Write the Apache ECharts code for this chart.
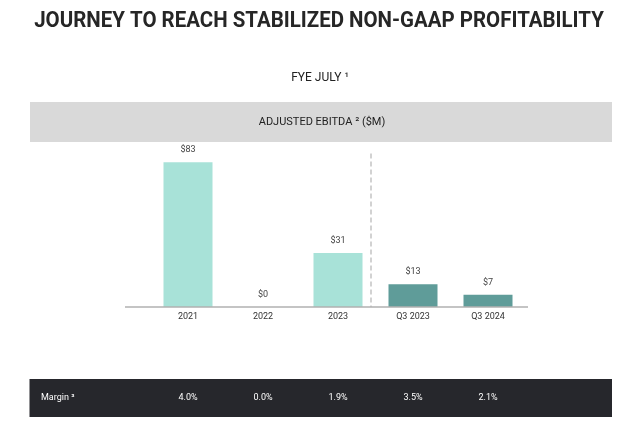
<!DOCTYPE html>
<html>
<head>
<meta charset="utf-8">
<script src="https://cdn.jsdelivr.net/npm/echarts@6/dist/echarts.min.js"></script>
<style>html,body{margin:0;padding:0;background:#fff}#c{width:640px;height:428px}</style>
</head>
<body>
<div id="c"></div>
<script>
const categories = ['2021', '2022', '2023', 'Q3 2023', 'Q3 2024'];
const ebitda = [83, 0, 31, 13, 7];
const barLabels = ['$83', '$0', '$31', '$13', '$7'];
const margins = ['4.0%', '0.0%', '1.9%', '3.5%', '2.1%'];
const annualCount = 3; // first three bars are fiscal years, rest quarters
const yTicks = [0, 90];

const LIGHT = '#a8e2d8';
const DARK = '#5f9c99';

const chart = echarts.init(document.getElementById('c'), null, {renderer: 'canvas'});

const barData = ebitda.map((v, i) => ({
  value: v,
  itemStyle: {color: i < annualCount ? LIGHT : DARK},
  label: {formatter: barLabels[i]}
}));

const baseGraphics = [
  {id: 'bandTop', type: 'rect', z: -10, shape: {x: 30, y: 102, width: 582, height: 40}, style: {fill: '#d9d9d9'}},
  {id: 'bandBot', type: 'rect', z: -10, shape: {x: 29.5, y: 379, width: 582.5, height: 38}, style: {fill: '#26272c'}},
  {id: 'base', type: 'line', z: 5, shape: {x1: 125, y1: 307, x2: 528, y2: 307}, style: {stroke: '#b0b0b0', lineWidth: 1.5}},
  {id: 'title', type: 'text', x: 319, y: 21, scaleX: 0.93, style: {
    text: 'JOURNEY TO REACH STABILIZED NON-GAAP PROFITABILITY',
    font: 'bold 22px Roboto', fill: '#262626', align: 'center', verticalAlign: 'middle'}},
  {id: 'fye', type: 'text', x: 320, y: 78, style: {
    text: 'FYE JULY ¹', font: '12px Roboto', fill: '#222222', align: 'center', verticalAlign: 'middle'}},
  {id: 'sub', type: 'text', x: 322, y: 122, style: {
    text: 'ADJUSTED EBITDA ² ($M)', font: '11px Roboto', fill: '#222222', align: 'center', verticalAlign: 'middle'}},
  {id: 'margin', type: 'text', x: 41, y: 398, z: 10, style: {
    text: 'Margin ³', font: '9px Roboto', fill: '#ffffff', align: 'left', verticalAlign: 'middle'}}
];

chart.setOption({
  animation: false,
  backgroundColor: '#ffffff',
  grid: {left: 150.5, right: 114.5, top: 150, bottom: 121},
  xAxis: [{
    type: 'category',
    data: categories,
    z: 10,
    axisLine: {show: false},
    axisTick: {show: false},
    axisLabel: {color: '#333333', fontSize: 9, fontFamily: 'Roboto', margin: 5}
  }, {
    type: 'category',
    data: margins,
    position: 'bottom',
    offset: 80,
    z: 10,
    axisLine: {show: false},
    axisTick: {show: false},
    axisLabel: {color: '#ffffff', fontSize: 9, fontFamily: 'Roboto', margin: 6}
  }],
  yAxis: {
    type: 'value', min: yTicks[0], max: yTicks[1], show: false
  },
  series: [{
    type: 'bar',
    data: barData,
    barWidth: 49,
    label: {
      show: true, position: 'top', distance: 8,
      color: '#444444', fontSize: 9, fontFamily: 'Roboto'
    }
  }],
  graphic: baseGraphics
});

// dashed separator between annual and quarterly bars, placed via the axes
const xa = chart.convertToPixel({xAxisIndex: 0}, categories[annualCount - 1]);
const xb = chart.convertToPixel({xAxisIndex: 0}, categories[annualCount]);
const sepX = xa + (xb - xa) * 0.44;
const yBottom = chart.convertToPixel({yAxisIndex: 0}, 0);
const yTop = chart.convertToPixel({yAxisIndex: 0}, 88);
chart.setOption({
  graphic: baseGraphics.concat([{
    id: 'sep', type: 'line', z: 4,
    shape: {x1: sepX, y1: yTop, x2: sepX, y2: yBottom},
    style: {stroke: '#b5b5b5', lineWidth: 1.2, lineDash: [5, 3]}
  }])
});
</script>
</body>
</html>
